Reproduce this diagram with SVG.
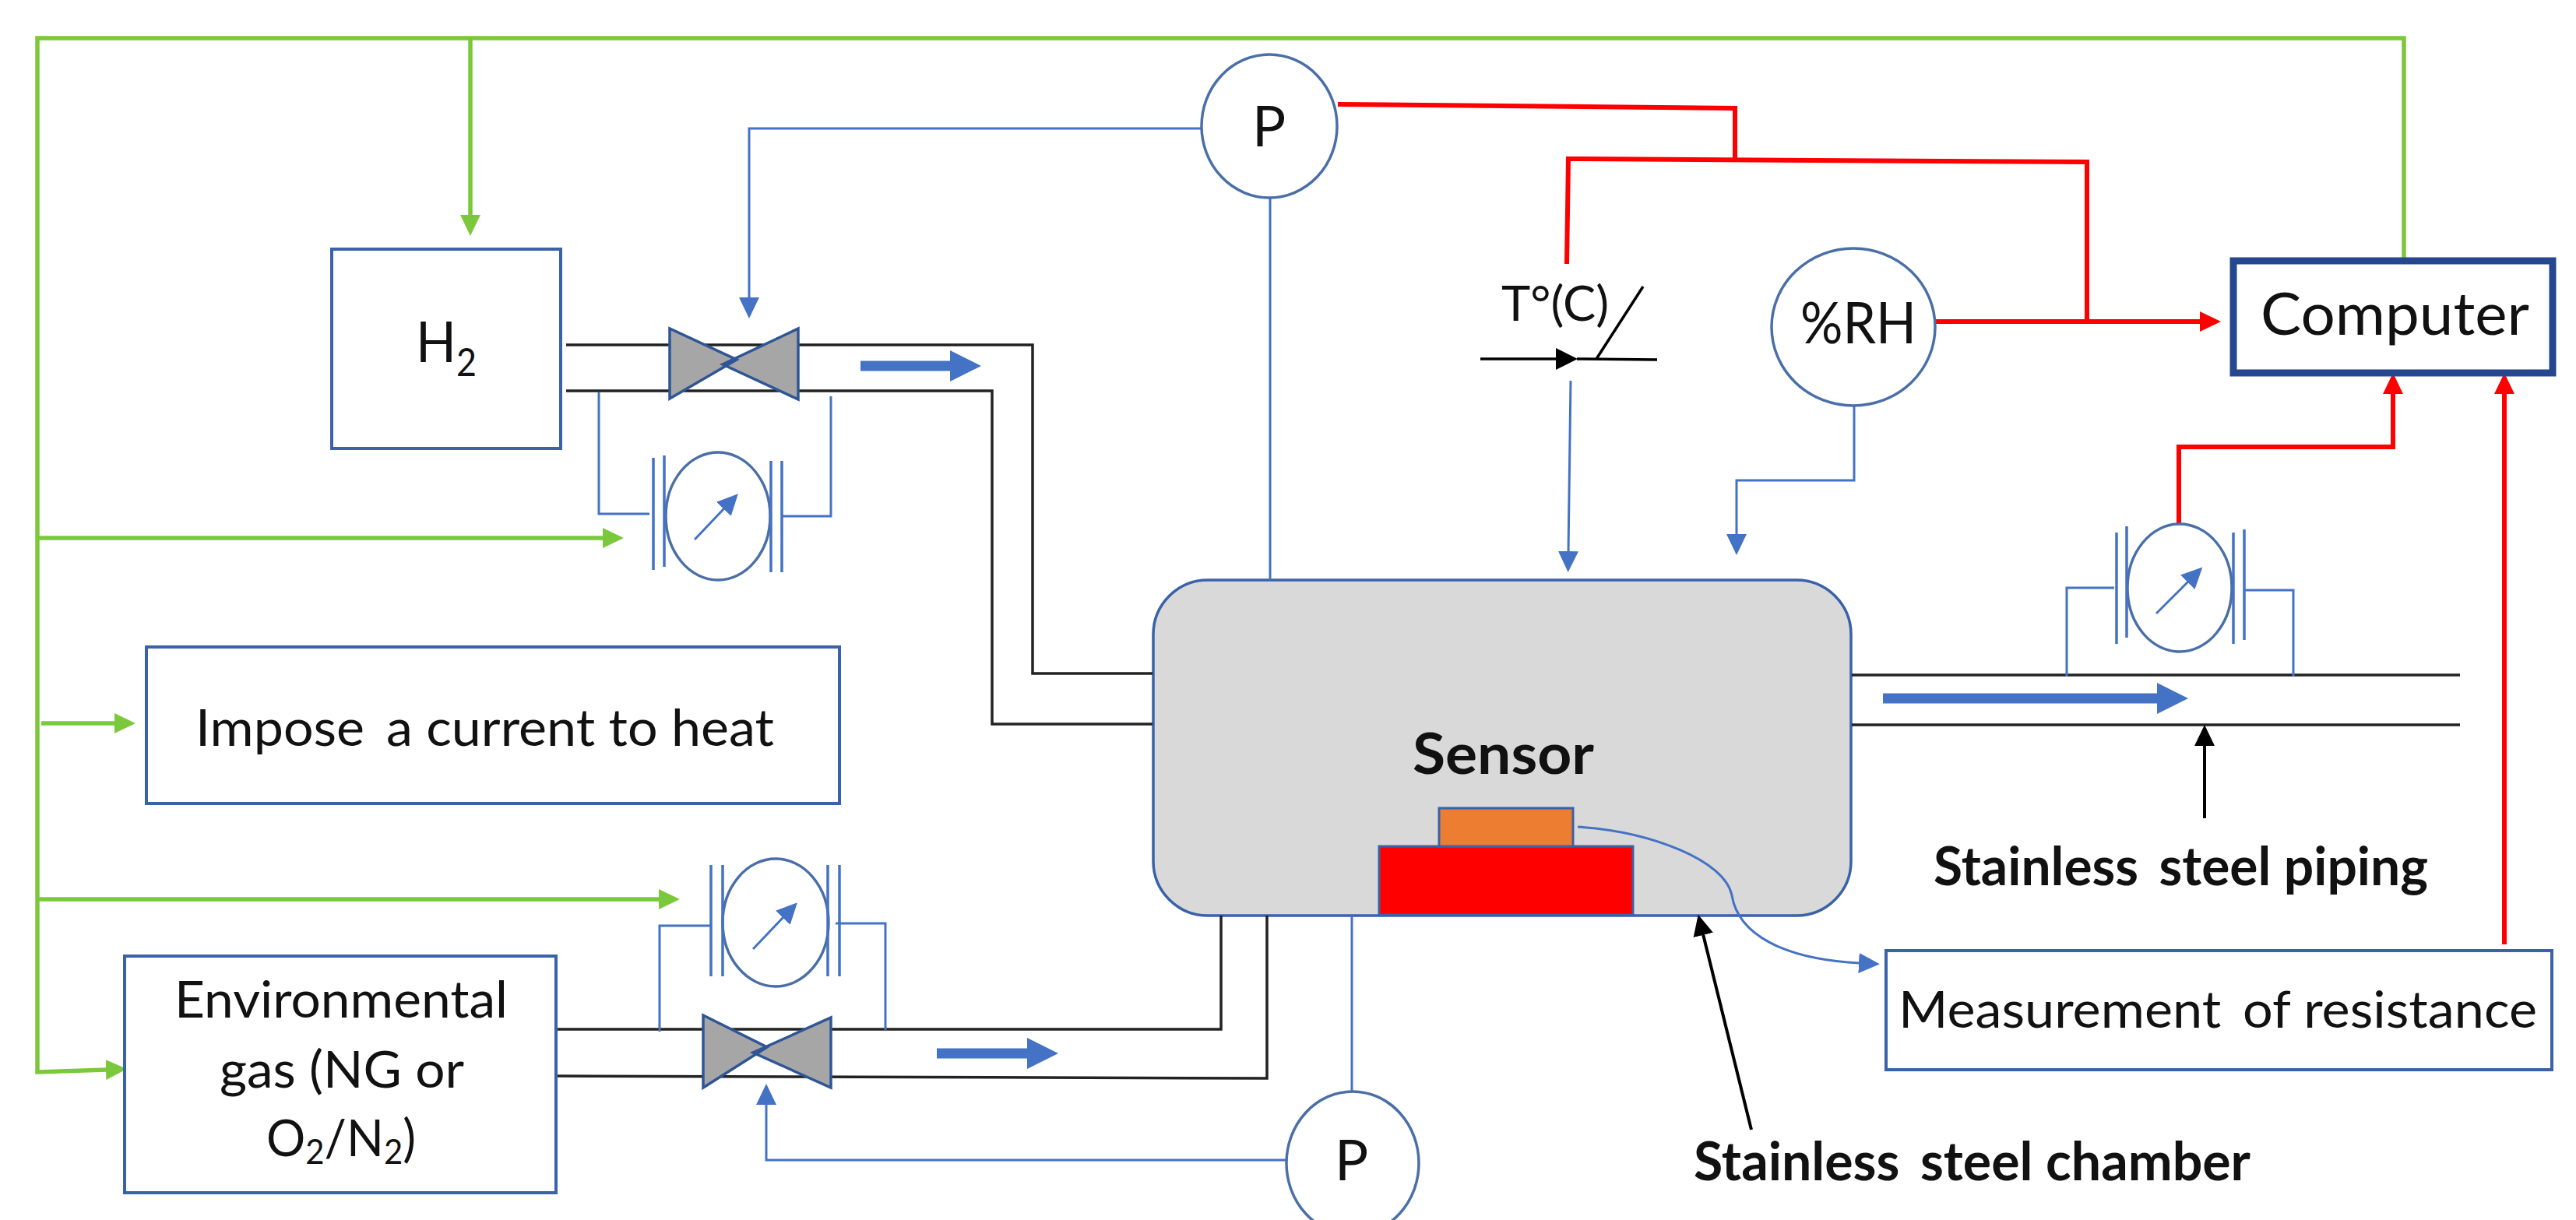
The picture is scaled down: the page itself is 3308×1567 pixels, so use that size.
<svg xmlns="http://www.w3.org/2000/svg" width="3308" height="1567" viewBox="0 0 3308 1567">
<style>
text{font-family:Lato,"Liberation Sans",sans-serif;fill:#111;font-size:66px}
.b{font-weight:700;font-size:72px}
.box{fill:#fff;stroke:#3a62a8;stroke-width:4}
.el{fill:#fff;stroke:#4a6fa8;stroke-width:3.5}
.bar{stroke:#4472c4;stroke-width:3.5;fill:none}
.valve{fill:#a6a6a6;stroke:#2f5597;stroke-width:3.5}
.pipe{stroke:#222;stroke-width:3.5;fill:none}
.blue{stroke:#4472c4;stroke-width:3;fill:none}
.green{stroke:#7cc83c;stroke-width:5.5;fill:none}
.red{stroke:#f00;stroke-width:6;fill:none}
.blk{stroke:#000;stroke-width:4;fill:none}
.flow{stroke:#4472c4;stroke-width:13;fill:none}
</style>
<defs>
<marker id="mb" markerUnits="userSpaceOnUse" markerWidth="30" markerHeight="30" refX="1" refY="14" orient="auto"><path d="M0,1L27,14L0,27Z" fill="#4472c4"/></marker>
<marker id="mg" markerUnits="userSpaceOnUse" markerWidth="30" markerHeight="30" refX="1" refY="14" orient="auto"><path d="M0,1L27,14L0,27Z" fill="#7cc83c"/></marker>
<marker id="mr" markerUnits="userSpaceOnUse" markerWidth="30" markerHeight="30" refX="1" refY="14" orient="auto"><path d="M0,1L27,14L0,27Z" fill="#f00"/></marker>
<marker id="mk" markerUnits="userSpaceOnUse" markerWidth="30" markerHeight="30" refX="1" refY="14" orient="auto"><path d="M0,1L27,14L0,27Z" fill="#000"/></marker>
<marker id="mf" markerUnits="userSpaceOnUse" markerWidth="42" markerHeight="44" refX="1" refY="22" orient="auto"><path d="M0,2L40,22L0,42Z" fill="#4472c4"/></marker>
</defs>

<g id="chamber"><rect x="1481" y="745" width="896" height="431" rx="70" ry="70" fill="#d9d9d9" stroke="#3a62a8" stroke-width="3.5"/>
<text class="b" x="1814" y="994" textLength="233" lengthAdjust="spacingAndGlyphs">Sensor</text></g>
<g id="heater"><rect x="1771" y="1087" width="326" height="88" fill="#f00" stroke="#3a62a8" stroke-width="3"/></g>
<g id="sensor-element"><rect x="1848" y="1038" width="172" height="49" fill="#ed7d31" stroke="#3a62a8" stroke-width="3"/></g>

<g id="connectors">
<path class="pipe" d="M727,443H1326V865H1480M727,502H1274V930H1480"/>
<path class="pipe" d="M714,1322H1568V1176M714,1382L1627,1385V1176"/>
<path class="pipe" d="M2378,867H3159M2378,931H3159"/>
<path class="blue" d="M769,504V660H834M1067,509V663H1003"/>
<path class="blue" d="M847,1325V1189H912M1073,1186H1137V1323"/>
<path class="blue" d="M2654,869V755H2715M2945,869V758H2882"/>
<path class="blue" d="M1543,165H962V383" marker-end="url(#mb)"/>
<path class="blue" d="M1631,254V745"/>
<path class="blue" d="M2017,489L2014,709" marker-end="url(#mb)"/>
<path class="blue" d="M2381,521V617H2230V687" marker-end="url(#mb)"/>
<path class="blue" d="M1736,1176V1402"/>
<path class="blue" d="M1652,1490H984V1418" marker-end="url(#mb)"/>
<path class="blue" d="M2026,1062C2120,1068 2215,1105 2224,1150C2232,1200 2290,1232 2388,1237" marker-end="url(#mb)"/>
<path class="green" d="M3087,333V49H48V1377L137,1374" marker-end="url(#mg)"/>
<path class="green" d="M604,49V277" marker-end="url(#mg)"/>
<path class="green" d="M48,691H775" marker-end="url(#mg)"/>
<path class="green" d="M53,929H148" marker-end="url(#mg)"/>
<path class="green" d="M48,1155H847" marker-end="url(#mg)"/>
<path class="red" d="M1718,134L2228,139V204"/>
<path class="red" d="M2012,339L2014,204L2680,208V413"/>
<path class="red" d="M2486,413H2826" marker-end="url(#mr)"/>
<path class="red" d="M2798,673V574H3073V505" marker-end="url(#mr)"/>
<path class="red" d="M3216,1213V505" marker-end="url(#mr)"/>
<path class="blk" d="M2831,1051V957" marker-end="url(#mk)"/>
<path class="blk" d="M2249,1451L2187,1200" marker-end="url(#mk)"/>
<path class="flow" d="M1105,470H1221" marker-end="url(#mf)"/>
<path class="flow" d="M1203,1353H1320" marker-end="url(#mf)"/>
<path class="flow" d="M2418,897H2771" marker-end="url(#mf)"/>
</g>

<g id="h2"><rect class="box" x="426" y="320" width="294" height="256"/>
<text x="534" y="465" style="font-size:72px" textLength="52" lengthAdjust="spacingAndGlyphs">H</text><text x="586" y="483" style="font-size:50px" textLength="26" lengthAdjust="spacingAndGlyphs">2</text></g>
<g id="environmental-gas"><rect class="box" x="160" y="1228" width="554" height="304"/>
<text x="224" y="1307" textLength="428" lengthAdjust="spacingAndGlyphs">Environmental</text>
<text x="282" y="1397" textLength="314" lengthAdjust="spacingAndGlyphs">gas (NG or</text>
<text x="342" y="1485" textLength="192" lengthAdjust="spacingAndGlyphs">O<tspan dy="10" style="font-size:44px">2</tspan><tspan dy="-10">/N</tspan><tspan dy="10" style="font-size:44px">2</tspan><tspan dy="-10">)</tspan></text></g>
<g id="impose"><rect class="box" x="188" y="831" width="890" height="201"/>
<text x="251" y="958" textLength="743" lengthAdjust="spacingAndGlyphs">Impose <tspan dx="10">a current to heat</tspan></text></g>
<g id="computer"><rect x="2868" y="335" width="410" height="144" fill="#fff" stroke="#24478f" stroke-width="9"/>
<text x="2903" y="430" style="font-size:76px" textLength="345" lengthAdjust="spacingAndGlyphs">Computer</text></g>
<g id="measurement"><rect class="box" x="2422" y="1221" width="855" height="153"/>
<text x="2438" y="1320" style="font-size:66px" textLength="820" lengthAdjust="spacingAndGlyphs">Measurement <tspan dx="10">of resistance</tspan></text></g>

<g id="valve-h2"><path class="valve" d="M860,422V512L946,462ZM1025,422V513L928,468Z"/></g>
<g id="valve-env"><path class="valve" d="M903,1304V1397L985,1345ZM1067,1307V1397L967,1352Z"/></g>

<g id="meter-h2"><ellipse class="el" cx="922" cy="663" rx="67" ry="82"/>
<path class="bar" d="M839,588V732M853,585V728M990,592V735M1004,592V735"/>
<path class="blue" d="M892,693L930,653" marker-end="url(#mb)"/></g>
<g id="meter-env"><ellipse class="el" cx="996" cy="1185" rx="68" ry="82"/>
<path class="bar" d="M913,1111V1254M928,1111V1254M1063,1111V1254M1078,1111V1254"/>
<path class="blue" d="M967,1219L1006,1178" marker-end="url(#mb)"/></g>
<g id="meter-out"><ellipse class="el" cx="2799" cy="755" rx="67" ry="82"/>
<path class="bar" d="M2718,684V827M2731,676V819M2868,684V827M2882,680V822"/>
<path class="blue" d="M2769,788L2810,747" marker-end="url(#mb)"/></g>

<g id="p-top"><ellipse class="el" cx="1630" cy="162" rx="87" ry="92"/><text x="1608" y="188" style="font-size:72px">P</text></g>
<g id="p-bottom"><ellipse class="el" cx="1737" cy="1494" rx="85" ry="92"/><text x="1714" y="1516" style="font-size:72px">P</text></g>
<g id="rh"><ellipse class="el" cx="2380" cy="420" rx="105" ry="101"/><text x="2312" y="441" style="font-size:74px" textLength="149" lengthAdjust="spacingAndGlyphs">%RH</text></g>
<g id="temperature"><text x="1928" y="412" style="font-size:62px" textLength="138" lengthAdjust="spacingAndGlyphs">T°(C)</text>
<path class="blk" style="stroke-width:3.5" d="M1901,461H1998M2050,461L2110,368M2025,461L2128,462"/><path d="M1998,447L2026,461L1998,475Z"/></g>

<g id="labels">
<text class="b" x="2483" y="1137" style="font-size:68px" textLength="635" lengthAdjust="spacingAndGlyphs">Stainless <tspan dx="10">steel piping</tspan></text>
<text class="b" x="2175" y="1516" style="font-size:68px" textLength="715" lengthAdjust="spacingAndGlyphs">Stainless <tspan dx="10">steel chamber</tspan></text>
</g>
</svg>
